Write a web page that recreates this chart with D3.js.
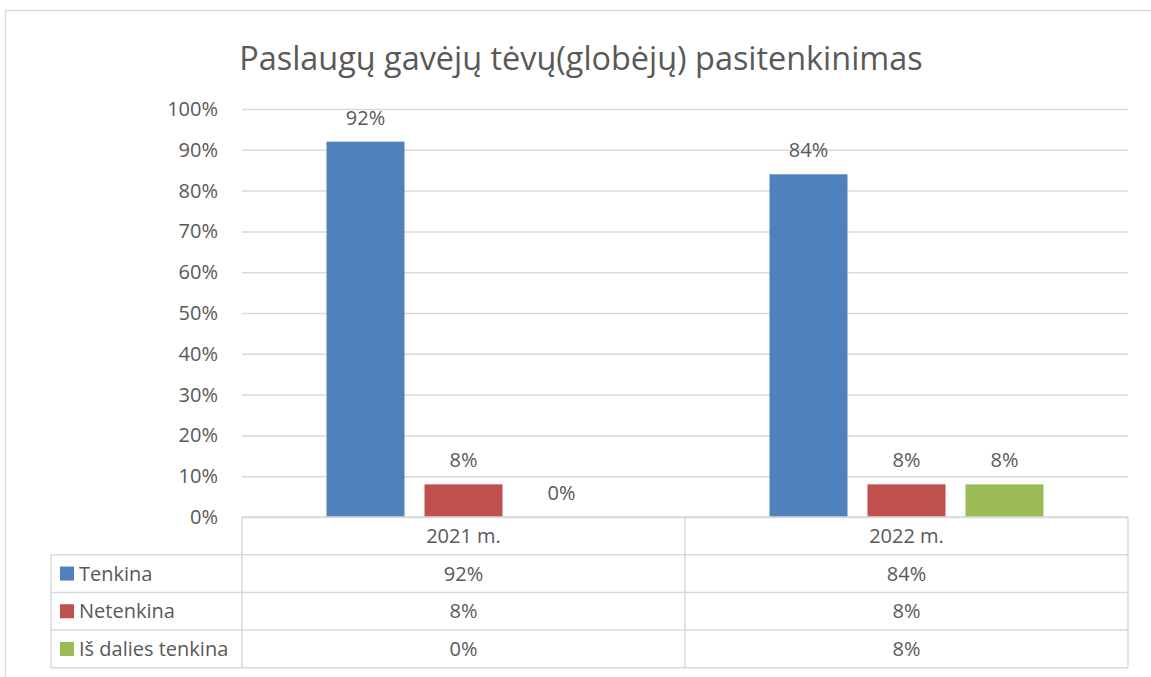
<!DOCTYPE html>
<html><head><meta charset="utf-8">
<script src="https://cdn.jsdelivr.net/npm/d3@7"></script>
<style>body{margin:0;background:#fff;} svg{display:block;font-family:"Open Sans","Noto Sans",sans-serif;}</style>
</head><body>
<svg id="c" width="1151" height="677"></svg>
<script>
const title = "Paslaugų gavėjų tėvų(globėjų) pasitenkinimas";
const categories = ["2021 m.", "2022 m."];
const seriesNames = ["Tenkina", "Netenkina", "Iš dalies tenkina"];
const tenkina = [0.92, 0.84];
const netenkina = [0.08, 0.08];
const isDalies = [0.00, 0.08];
const seriesColors = ["#4F81BD", "#C0504D", "#9BBB59"];
const yTicks = [0,0.1,0.2,0.3,0.4,0.5,0.6,0.7,0.8,0.9,1.0];

const series = [tenkina, netenkina, isDalies];
const svg = d3.select("#c");
const textColor = "#595959", gridColor = "#D9D9D9";
const pLeft = 242, pRight = 1128, pTop = 109, pBottom = 517;
const tableLeft = 51, rowH = 37.7;
const fs = 20;

// outer border
svg.append("path").attr("d","M5.5,677 V10.5 H1151").attr("fill","none").attr("stroke",gridColor).attr("stroke-width",1.5);

const x = d3.scaleBand().domain(categories).range([pLeft,pRight]).paddingInner(0).paddingOuter(0);
const xs = d3.scaleBand().domain(d3.range(series.length))
  .range([84.5, x.bandwidth()-84.5]).paddingInner(20/98).paddingOuter(0);
const y = d3.scaleLinear().domain([0,1]).range([pBottom,pTop]);

// title
svg.append("text").attr("x",581).attr("y",70).attr("text-anchor","middle").attr("fill",textColor)
  .attr("font-size",32.4).text(title);

// grid
const yAxis = d3.axisLeft(y).tickValues(yTicks).tickFormat(d3.format(".0%")).tickSize(-(pRight-pLeft)).tickPadding(24);
const ga = svg.append("g").attr("transform",`translate(${pLeft},0)`).call(yAxis);
ga.select(".domain").remove();
ga.selectAll(".tick line").attr("stroke",gridColor).attr("stroke-width",1.5);
ga.selectAll(".tick text").attr("fill",textColor).attr("font-size",fs).attr("font-family","Open Sans");

// bars
series.forEach((vals,si)=>{
  const g = svg.append("g");
  g.selectAll("rect").data(categories).join("rect")
    .attr("x",c=>x(c)+xs(si)).attr("width",xs.bandwidth())
    .attr("y",(c,i)=>y(vals[i])).attr("height",(c,i)=>pBottom-y(vals[i]))
    .attr("fill",seriesColors[si]);
  g.selectAll("text").data(categories).join("text")
    .attr("x",c=>x(c)+xs(si)+xs.bandwidth()/2).attr("y",(c,i)=>y(vals[i])-17)
    .attr("text-anchor","middle").attr("fill",textColor).attr("font-size",fs)
    .text((c,i)=>d3.format(".0%")(vals[i]));
});

// data table
const tg = svg.append("g").attr("stroke",gridColor).attr("stroke-width",1.5).attr("fill","none");
const rowsY = [0,1,2,3,4].map(r=>pBottom+r*rowH);
tg.append("line").attr("x1",pLeft).attr("x2",pRight).attr("y1",pBottom).attr("y2",pBottom);
for (let r=1;r<=4;r++) tg.append("line").attr("x1",tableLeft).attr("x2",pRight).attr("y1",rowsY[r]).attr("y2",rowsY[r]);
tg.append("line").attr("x1",tableLeft).attr("x2",tableLeft).attr("y1",rowsY[1]).attr("y2",rowsY[4]);
[pLeft, pLeft+x.bandwidth(), pRight].forEach(vx=>tg.append("line").attr("x1",vx).attr("x2",vx).attr("y1",pBottom).attr("y2",rowsY[4]));

svg.append("g").selectAll("text").data(categories).join("text")
  .attr("x",c=>x(c)+x.bandwidth()/2).attr("y",pBottom+rowH/2+7).attr("text-anchor","middle")
  .attr("fill",textColor).attr("font-size",fs).text(c=>c);

series.forEach((vals,si)=>{
  const cy = rowsY[si+1]+rowH/2;
  svg.append("rect").attr("x",60).attr("y",cy-7).attr("width",14).attr("height",14).attr("fill",seriesColors[si]);
  svg.append("text").attr("x",79).attr("y",cy+7).attr("fill",textColor).attr("font-size",fs).text(seriesNames[si]);
  svg.append("g").selectAll("text").data(categories).join("text")
    .attr("x",c=>x(c)+x.bandwidth()/2).attr("y",cy+7).attr("text-anchor","middle")
    .attr("fill",textColor).attr("font-size",fs).text((c,i)=>d3.format(".0%")(vals[i]));
});
</script>
</body></html>
